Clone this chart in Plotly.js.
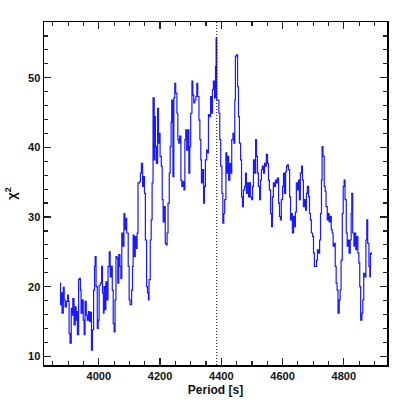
<!DOCTYPE html>
<html>
<head>
<meta charset="utf-8">
<script src="https://cdn.plot.ly/plotly-3.0.1.min.js"></script>
<style>
  html, body { margin: 0; padding: 0; background: #fff; }
  #chart { width: 409px; height: 409px; }
</style>
</head>
<body>
<div id="chart"></div>
<script>
// period grid [s] and chi^2 values
const period = [
  3873, 3875, 3878, 3880, 3884, 3887, 3890, 3894, 3898, 3901, 3903, 3906, 3910, 3913, 3915, 3919,
  3923, 3926, 3928, 3930, 3934, 3937, 3940, 3942, 3946, 3949, 3952, 3955, 3959, 3962, 3966, 3970,
  3973, 3976, 3979, 3983, 3986, 3988, 3991, 3995, 3998, 4001, 4005, 4009, 4012, 4015, 4017, 4020,
  4023, 4026, 4030, 4034, 4037, 4040, 4044, 4047, 4050, 4053, 4056, 4059, 4062, 4065, 4069, 4072,
  4075, 4078, 4082, 4085, 4088, 4091, 4096, 4099, 4102, 4107, 4110, 4112, 4115, 4119, 4122, 4125,
  4128, 4133, 4136, 4139, 4143, 4146, 4149, 4152, 4156, 4159, 4162, 4164, 4168, 4171, 4174, 4177,
  4181, 4183, 4185, 4188, 4192, 4195, 4198, 4200, 4204, 4207, 4210, 4213, 4217, 4220, 4223, 4226,
  4230, 4233, 4236, 4238, 4242, 4245, 4248, 4251, 4255, 4258, 4261, 4264, 4268, 4271, 4274, 4278,
  4281, 4284, 4287, 4291, 4294, 4297, 4300, 4304, 4307, 4310, 4313, 4317, 4320, 4323, 4327, 4330,
  4333, 4335, 4338, 4342, 4345, 4348, 4352, 4355, 4358, 4361, 4365, 4368, 4371, 4374, 4378, 4381,
  4383, 4385, 4389, 4392, 4395, 4398, 4402, 4405, 4408, 4411, 4415, 4418, 4421, 4424, 4428, 4431,
  4434, 4438, 4441, 4444, 4446, 4450, 4453, 4456, 4459, 4463, 4466, 4469, 4472, 4476, 4479, 4482,
  4485, 4489, 4492, 4495, 4499, 4502, 4505, 4508, 4512, 4515, 4518, 4521, 4525, 4528, 4531, 4534,
  4538, 4541, 4544, 4547, 4551, 4554, 4557, 4561, 4564, 4567, 4570, 4574, 4577, 4580, 4583, 4587,
  4590, 4593, 4596, 4600, 4603, 4606, 4610, 4613, 4616, 4619, 4623, 4626, 4629, 4632, 4636, 4639,
  4642, 4645, 4649, 4652, 4655, 4658, 4662, 4665, 4668, 4672, 4675, 4678, 4681, 4685, 4688, 4691,
  4694, 4698, 4701, 4704, 4707, 4711, 4714, 4717, 4721, 4724, 4727, 4729, 4732, 4736, 4739, 4742,
  4746, 4749, 4752, 4755, 4759, 4762, 4765, 4768, 4772, 4775, 4778, 4781, 4785, 4788, 4791, 4795,
  4798, 4801, 4804, 4808, 4811, 4814, 4817, 4821, 4824, 4826, 4829, 4833, 4836, 4839, 4842, 4846,
  4849, 4852, 4855, 4859, 4862, 4865, 4869, 4872, 4875, 4878, 4882, 4885, 4887, 4890
];

const chi2 = [
  20.5, 17.4, 19.1, 16.2, 19.9, 18.1, 17.1, 17.9, 18.8, 17.9, 13.3, 11.9, 16.9, 15.9, 18.3, 14.5,
  17.1, 15.2, 16.4, 13.1, 21.0, 21.2, 19.5, 16.2, 18.1, 15.2, 13.1, 17.9, 15.9, 15.2, 16.4, 15.0,
  16.3, 10.9, 13.8, 19.5, 22.9, 24.3, 20.0, 14.0, 15.2, 20.2, 20.5, 22.9, 19.1, 16.2, 20.0, 16.7,
  20.7, 18.1, 22.9, 25.0, 21.4, 22.9, 19.5, 14.7, 13.5, 18.1, 24.3, 24.1, 20.5, 24.6, 22.9, 21.2,
  27.7, 25.8, 30.5, 28.2, 29.8, 27.7, 22.9, 18.1, 17.4, 19.5, 22.9, 27.4, 24.3, 27.2, 25.5, 27.7,
  34.9, 35.1, 36.3, 37.7, 34.4, 35.8, 33.4, 26.7, 20.0, 19.1, 18.1, 21.0, 26.7, 29.6, 34.9, 47.1,
  38.2, 44.4, 40.1, 37.7, 45.6, 40.6, 42.0, 38.7, 37.3, 32.5, 29.3, 31.5, 26.2, 26.0, 27.7, 32.0,
  36.3, 40.1, 43.6, 46.8, 35.8, 47.1, 49.2, 47.8, 44.9, 41.1, 40.6, 41.6, 35.3, 34.4, 35.1, 33.9,
  41.1, 42.5, 39.6, 42.5, 36.3, 40.1, 44.9, 49.5, 47.5, 46.4, 46.8, 47.3, 49.2, 47.3, 43.9, 41.1,
  38.2, 34.9, 36.8, 32.0, 34.4, 38.2, 39.6, 39.2, 44.7, 44.4, 47.3, 44.9, 48.3, 49.5, 47.1, 51.6,
  55.7, 46.8, 46.8, 44.9, 41.1, 37.3, 33.4, 29.1, 30.5, 32.5, 39.2, 36.3, 38.7, 35.3, 37.7, 36.3,
  41.1, 42.0, 40.6, 46.8, 53.1, 53.3, 48.7, 44.4, 40.6, 38.2, 32.9, 31.5, 33.9, 34.4, 36.3, 33.4,
  34.9, 32.9, 34.9, 32.9, 32.5, 34.4, 38.2, 36.3, 41.1, 38.7, 36.3, 34.4, 32.5, 35.3, 36.8, 37.3,
  36.3, 37.7, 37.3, 39.0, 37.7, 35.3, 33.9, 30.5, 28.6, 32.9, 34.9, 34.4, 35.3, 34.9, 35.6, 32.0,
  30.1, 29.6, 32.5, 34.4, 36.3, 33.4, 36.5, 37.3, 37.5, 36.8, 32.9, 29.6, 30.5, 27.7, 30.1, 28.6,
  30.7, 34.9, 33.9, 35.3, 32.5, 36.3, 37.3, 35.3, 31.5, 32.5, 31.0, 33.4, 34.4, 32.9, 30.5, 29.6,
  27.7, 27.2, 24.8, 22.9, 22.9, 23.8, 25.3, 24.8, 26.7, 30.5, 35.3, 40.1, 38.7, 34.4, 33.7, 31.5,
  29.6, 30.5, 29.3, 30.1, 28.2, 27.7, 25.8, 26.2, 22.9, 20.5, 19.5, 16.2, 18.1, 19.5, 23.8, 30.5,
  34.4, 35.3, 32.5, 27.7, 25.8, 26.7, 24.8, 26.7, 30.5, 33.4, 27.7, 25.8, 27.7, 25.3, 27.2, 24.8,
  23.4, 20.0, 15.2, 16.2, 18.1, 21.9, 21.4, 26.7, 29.6, 26.2, 22.9, 21.4, 24.8, 24.6
];

const bestPeriod = 4385;

const fontFam = 'Liberation Sans, Arial, sans-serif';

const axisCommon = {
  showgrid: false,
  zeroline: false,
  showline: true,
  linecolor: '#000',
  linewidth: 1.5,
  mirror: 'allticks',
  ticks: 'inside',
  ticklen: 7,
  tickwidth: 1.2,
  tickcolor: '#222',
  tickfont: { family: fontFam, size: 11, color: '#111', weight: 600 }
};

const trace = {
  x: period,
  y: chi2,
  type: 'scatter',
  mode: 'lines',
  line: { color: '#1a1aff', width: 1.2, shape: 'hv' },
  hoverinfo: 'skip'
};

const layout = {
  width: 409,
  height: 409,
  margin: { l: 44, r: 22, t: 22, b: 44 },
  paper_bgcolor: '#fff',
  plot_bgcolor: '#fff',
  showlegend: false,
  xaxis: Object.assign({}, axisCommon, {
    range: [3821, 4941],
    tickvals: [4000, 4200, 4400, 4600, 4800],
    minor: { dtick: 50, tick0: 4000, ticks: 'inside', ticklen: 4, tickcolor: '#222' },
    title: { text: 'Period [s]', standoff: 5,
             font: { family: fontFam, size: 12, color: '#111', weight: 600 } }
  }),
  yaxis: Object.assign({}, axisCommon, {
    range: [8.75, 58],
    tickvals: [10, 20, 30, 40, 50],
    minor: { dtick: 2, tick0: 10, ticks: 'inside', ticklen: 4, tickcolor: '#222' },
    title: { text: 'χ<sup>2</sup>', standoff: 8,
             font: { family: fontFam, size: 13, color: '#111', weight: 600 } }
  }),
  shapes: [{
    type: 'line', xref: 'x', yref: 'paper',
    x0: bestPeriod, x1: bestPeriod, y0: 0, y1: 1,
    line: { color: '#000', width: 1, dash: '1px,2px' }
  }]
};

Plotly.newPlot('chart', [trace], layout, { displayModeBar: false, staticPlot: true });
</script>
</body>
</html>
